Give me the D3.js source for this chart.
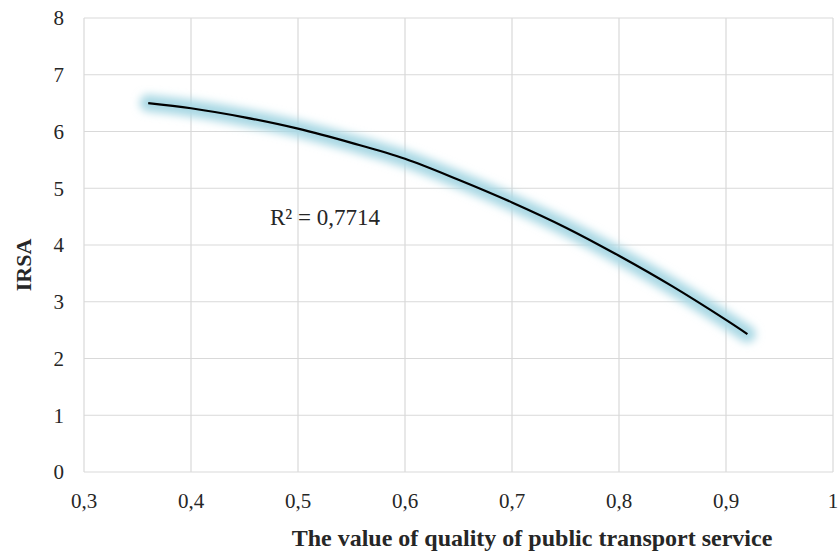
<!DOCTYPE html>
<html>
<head>
<meta charset="utf-8">
<script src="https://cdn.jsdelivr.net/npm/d3@7"></script>
<style>
  body { margin: 0; background: #fff; }
  text { font-family: "Liberation Serif", "Times New Roman", serif; fill: #262626; }
</style>
</head>
<body>
<div id="chart"></div>
<script>
// trendline
var xValues = [0.36, 0.40, 0.45, 0.50, 0.55, 0.60, 0.65, 0.70, 0.75, 0.80, 0.85, 0.90, 0.92];
var yValues = [6.50, 6.41, 6.25, 6.05, 5.80, 5.52, 5.15, 4.75, 4.31, 3.81, 3.27, 2.68, 2.43];
var xTicks = [0.3, 0.4, 0.5, 0.6, 0.7, 0.8, 0.9, 1];
var yTicks = [0, 1, 2, 3, 4, 5, 6, 7, 8];
var rSquared = "R² = 0,7714";

const WIDTH = 838;
const HEIGHT = 551;
const MARGIN = { TOP: 18, BOTTOM: 79, LEFT: 84, RIGHT: 5 };

var svg = d3.select("#chart")
  .append("svg")
  .attr("width", WIDTH)
  .attr("height", HEIGHT)
  .attr("font-family", "'Liberation Serif', 'Times New Roman', serif");

var x = d3.scaleLinear()
  .domain([0.3, 1])
  .range([MARGIN.LEFT, WIDTH - MARGIN.RIGHT]);

var y = d3.scaleLinear()
  .domain([0, 8])
  .range([HEIGHT - MARGIN.BOTTOM, MARGIN.TOP]);

var fmt = function (d) { return String(d).replace(".", ","); };

// soft glow behind the trendline
var defs = svg.append("defs");
defs.append("filter")
  .attr("id", "glow")
  .attr("x", "-20%").attr("y", "-30%")
  .attr("width", "140%").attr("height", "160%")
  .append("feGaussianBlur")
  .attr("stdDeviation", 4);

// gridlines
svg.append("g")
  .selectAll("line")
  .data(xTicks)
  .enter().append("line")
  .attr("x1", function (d) { return x(d); })
  .attr("x2", function (d) { return x(d); })
  .attr("y1", y(0))
  .attr("y2", y(8))
  .style("stroke", "#d9d9d9")
  .style("stroke-width", 1.2);

svg.append("g")
  .selectAll("line")
  .data(yTicks)
  .enter().append("line")
  .attr("x1", x(0.3))
  .attr("x2", x(1))
  .attr("y1", function (d) { return y(d); })
  .attr("y2", function (d) { return y(d); })
  .style("stroke", "#d9d9d9")
  .style("stroke-width", 1.2);

// tick labels
svg.append("g")
  .selectAll("text")
  .data(yTicks)
  .enter().append("text")
  .attr("x", x(0.3) - 20)
  .attr("y", function (d) { return y(d); })
  .attr("dy", "0.35em")
  .attr("text-anchor", "end")
  .style("font-size", "21px")
  .text(fmt);

svg.append("g")
  .selectAll("text")
  .data(xTicks)
  .enter().append("text")
  .attr("x", function (d) { return x(d); })
  .attr("y", y(0) + 36)
  .attr("text-anchor", "middle")
  .style("font-size", "21px")
  .text(fmt);

// axis titles
svg.append("text")
  .attr("transform", "translate(31,265) rotate(-90)")
  .attr("text-anchor", "middle")
  .style("font-size", "22px")
  .style("font-weight", "bold")
  .text("IRSA");

svg.append("text")
  .attr("x", 532)
  .attr("y", y(0) + 74)
  .attr("text-anchor", "middle")
  .style("font-size", "24px")
  .style("font-weight", "bold")
  .text("The value of quality of public transport service");

// trendline
var pts = xValues.map(function (d, i) { return [d, yValues[i]]; });
var line = d3.line()
  .x(function (d) { return x(d[0]); })
  .y(function (d) { return y(d[1]); })
  .curve(d3.curveCatmullRom);

svg.append("path")
  .attr("d", line(pts))
  .attr("filter", "url(#glow)")
  .style("fill", "none")
  .style("stroke", "#a9d8e4")
  .style("stroke-width", 17)
  .style("stroke-linecap", "round");

svg.append("path")
  .attr("d", line(pts))
  .style("fill", "none")
  .style("stroke", "#000")
  .style("stroke-width", 2.2);

svg.append("text")
  .attr("x", 270)
  .attr("y", 225)
  .style("font-size", "23px")
  .text(rSquared);
</script>
</body>
</html>
